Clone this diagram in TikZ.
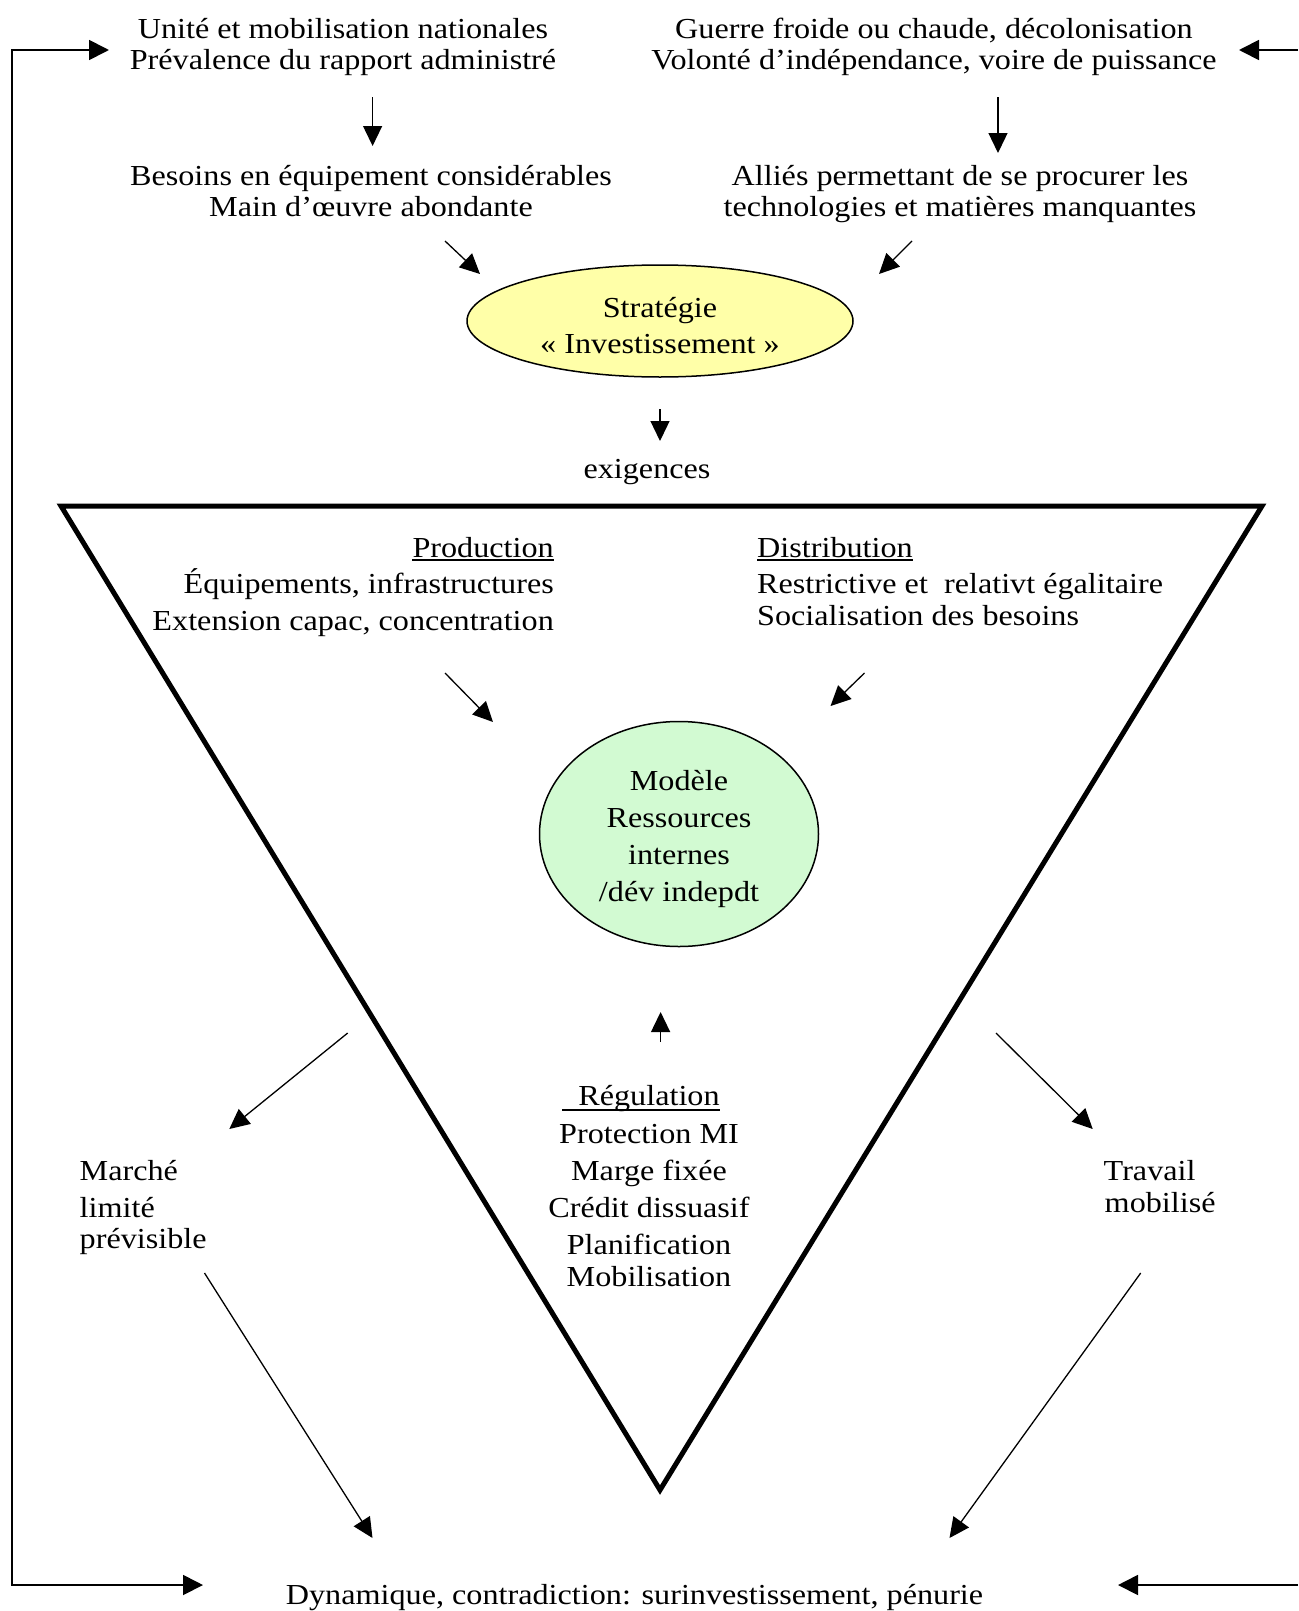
\documentclass[tikz,border=0pt]{standalone}
\usepackage{fontspec}
\setmainfont{Liberation Serif}[FakeStretch=1.11]
\usetikzlibrary{arrows.meta,shapes.geometric}
\definecolor{stratyellow}{RGB}{255,255,168}
\definecolor{modelgreen}{RGB}{210,250,210}
\begin{document}
\begin{tikzpicture}[x=1pt,y=-1pt,
  txt/.style={font=\fontsize{29}{32}\selectfont, inner sep=0pt, anchor=base},
  txtl/.style={txt, anchor=base west},
  txtr/.style={txt, anchor=base east},
  arr/.style={line width=1.3pt, -{Triangle[length=20pt,width=19pt]}},
  loopline/.style={line width=1.8pt, -{Triangle[length=20pt,width=20pt]}},
  ul/.style={line width=1.4pt},
]
\useasboundingbox (0,0) rectangle (1298,1611);

% top texts
\node[txt] (t1a) at (343,39) {Unité et mobilisation nationales};
\node[txt] (t1b) at (343,70) {Prévalence du rapport administré};
\node[txt] (t2a) at (934,39) {Guerre froide ou chaude, décolonisation};
\node[txt] (t2b) at (934,70) {Volonté d’indépendance, voire de puissance};
\node[txt] (t3a) at (371,185) {Besoins en équipement considérables};
\node[txt] (t3b) at (371,216) {Main d’œuvre abondante};
\node[txt] (t4a) at (960,185) {Alliés permettant de se procurer les};
\node[txt] (t4b) at (960,216) {technologies et matières manquantes};

% strategy ellipse
\node[ellipse, draw, line width=1.5pt, fill=stratyellow, minimum width=386pt, minimum height=112pt, inner sep=0pt] (strat) at (660,321) {};
\node[txt] (s1) at (660,317) {Stratégie};
\node[txt] (s2) at (660,353) {« Investissement »};

\node[txt] (exig) at (647,478) {exigences};

% triangle
\coordinate (triA) at (61,506);
\coordinate (triB) at (1262,506);
\coordinate (triC) at (660,1490);
\draw[line width=5pt, line join=miter] (triA) -- (triB) -- (triC) -- cycle;

% production
\node[txtr] (prod) at (554,557) {Production};
\draw[ul] ([yshift=-3pt]prod.base west) -- ([yshift=-3pt]prod.base east);
\node[txtr] (prod1) at (554,593) {Équipements, infrastructures};
\node[txtr] (prod2) at (554,630) {Extension capac, concentration};

% distribution
\node[txtl] (dist) at (757,557) {Distribution};
\draw[ul] ([yshift=-3pt]dist.base west) -- ([yshift=-3pt]dist.base east);
\node[txtl] (dist1) at (757,593) {Restrictive et~ relativt égalitaire};
\node[txtl] (dist2) at (757,625) {Socialisation des besoins};

% model ellipse
\node[ellipse, draw, line width=1.5pt, fill=modelgreen, minimum width=279pt, minimum height=225pt, inner sep=0pt] (model) at (679,834) {};
\node[txt] (m1) at (679,790) {Modèle};
\node[txt] (m2) at (679,827) {Ressources};
\node[txt] (m3) at (679,864) {internes};
\node[txt] (m4) at (679,901) {/dév indepdt};

% regulation
\node[txt] (reg) at (649,1105) {Régulation};
\draw[ul] ([xshift=-16pt,yshift=-5pt]reg.base west) -- ([yshift=-5pt]reg.base east);
\node[txt] (r1) at (649,1143) {Protection MI};
\node[txt] (r2) at (649,1180) {Marge fixée};
\node[txt] (r3) at (649,1217) {Crédit dissuasif};
\node[txt] (r4) at (649,1254) {Planification};
\node[txt] (r5) at (649,1286) {Mobilisation};

% side texts
\node[txtl] (mk1) at (79.5,1180) {Marché};
\node[txtl] (mk2) at (79.5,1217) {limité};
\node[txtl] (mk3) at (79.5,1248) {prévisible};
\node[txtl] (tr1) at (1103.5,1180) {Travail};
\node[txtl] (tr2) at (1104.5,1212) {mobilisé};

% bottom text
\node[txt] (dyn) at (634.5,1604) {Dynamique, contradiction: surinvestissement, pénurie};

% arrow end points
\coordinate (a1s) at (372.6,97);   \coordinate (a1e) at (372.6,146);
\coordinate (a2s) at (998,97);     \coordinate (a2e) at (998,153);
\coordinate (a3s) at (445,241);    \coordinate (a3e) at (480,274);
\coordinate (a4s) at (912,241);    \coordinate (a4e) at (879,274);
\coordinate (a5s) at (660,409);    \coordinate (a5e) at (660,441);
\coordinate (a6s) at (445,673);    \coordinate (a6e) at (493,722);
\coordinate (a7s) at (864.5,673);  \coordinate (a7e) at (830.5,706);
\coordinate (a8s) at (660.6,1042); \coordinate (a8e) at (660.6,1012);
\coordinate (a9s) at (347.7,1033); \coordinate (a9e) at (229.3,1129);
\coordinate (a10s) at (996,1033);  \coordinate (a10e) at (1092.7,1129);
\coordinate (a11s) at (204.5,1273);\coordinate (a11e) at (372.5,1538);
\coordinate (a12s) at (1140.7,1273);\coordinate (a12e) at (949.5,1538);

\draw[arr] (a1s) -- (a1e);
\draw[arr] (a2s) -- (a2e);
\draw[arr] (a3s) -- (a3e);
\draw[arr] (a4s) -- (a4e);
\draw[arr] (a5s) -- (a5e);
\draw[arr] (a6s) -- (a6e);
\draw[arr] (a7s) -- (a7e);
\draw[arr] (a8s) -- (a8e);
\draw[arr] (a9s) -- (a9e);
\draw[arr] (a10s) -- (a10e);
\draw[arr] (a11s) -- (a11e);
\draw[arr] (a12s) -- (a12e);

% feedback loops
\coordinate (lpTopEnd) at (109,50);
\coordinate (lpTop) at (12,50);
\coordinate (lpBot) at (12,1585);
\coordinate (lpBotEnd) at (203,1585);
\draw[loopline] (lpBot) -- (lpTop) -- (lpTopEnd);
\draw[loopline] (lpTop) -- (lpBot) -- (lpBotEnd);
\coordinate (rtTop) at (1298,50);   \coordinate (rtTopEnd) at (1239,50);
\coordinate (rtBot) at (1298,1585); \coordinate (rtBotEnd) at (1118,1585);
\draw[loopline] (rtTop) -- (rtTopEnd);
\draw[loopline] (rtBot) -- (rtBotEnd);
\end{tikzpicture}
\end{document}
